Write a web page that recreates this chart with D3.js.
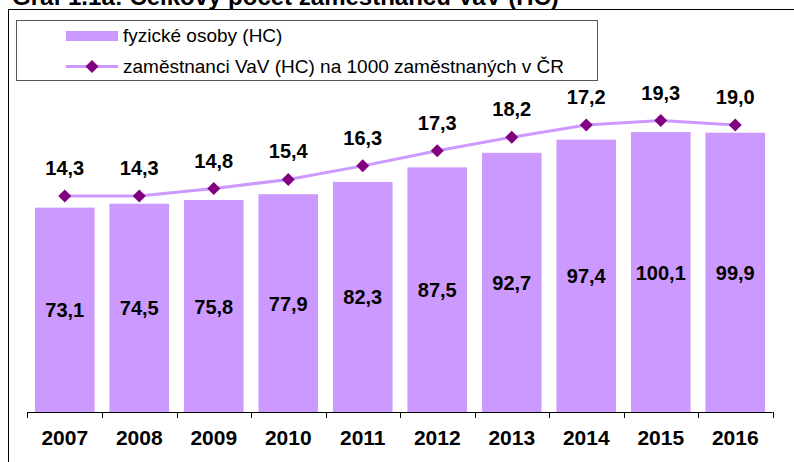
<!DOCTYPE html>
<html>
<head>
<meta charset="utf-8">
<script src="https://cdn.jsdelivr.net/npm/d3@7"></script>
<style>
  html, body { margin: 0; padding: 0; background: #fff; }
  svg { display: block; }
  text { font-family: "Liberation Sans", Arial, sans-serif; }
</style>
</head>
<body>
<svg id="chart" width="794" height="462"></svg>
<script>
const title = "Graf 1.1a: Celkový počet zaměstnanců VaV (HC)";
const years = ["2007","2008","2009","2010","2011","2012","2013","2014","2015","2016"];
const headcount = [73.1, 74.5, 75.8, 77.9, 82.3, 87.5, 92.7, 97.4, 100.1, 99.9];
const headcountLabels = ["73,1","74,5","75,8","77,9","82,3","87,5","92,7","97,4","100,1","99,9"];
const per1000 = [14.3, 14.3, 14.8, 15.4, 16.3, 17.3, 18.2, 19.0, 19.3, 19.0];
const per1000Labels = ["14,3","14,3","14,8","15,4","16,3","17,3","18,2","17,2","19,3","19,0"];
const seriesNames = ["fyzické osoby (HC)", "zaměstnanci VaV (HC) na 1000 zaměstnaných v ČR"];

const barColor = "#CC99FF";
const lineColor = "#CC99FF";
const markerColor = "#800080";

const svg = d3.select("#chart");

// Outer frame (extends beyond the picture on right/bottom)
svg.append("rect").attr("x", 8.5).attr("y", 9.5).attr("width", 800).attr("height", 480)
  .attr("fill", "none").attr("stroke", "#000").attr("stroke-width", 1);

// Title (partly cut off at top)
svg.append("text").attr("x", 12).attr("y", 5)
  .attr("font-size", 24).attr("font-weight", "bold").attr("fill", "#000").text(title);

const baseY = 412;
const x = d3.scaleBand().domain(years).range([27.5, 772.5]).paddingInner(0.2).paddingOuter(0.1);
const y = d3.scaleLinear().domain([0, 120]).range([baseY, baseY - 2.796 * 120]);
const y2 = d3.scaleLinear().domain([0, 22]).range([baseY, baseY - 15.1 * 22]);

// Bars
svg.append("g").selectAll("rect").data(years).join("rect")
  .attr("x", d => x(d))
  .attr("width", x.bandwidth())
  .attr("y", (d, i) => y(headcount[i]))
  .attr("height", (d, i) => y(0) - y(headcount[i]))
  .attr("fill", barColor);

// Bar labels (centered in bar)
svg.append("g").selectAll("text").data(years).join("text")
  .attr("x", d => x(d) + x.bandwidth() / 2)
  .attr("y", (d, i) => (y(headcount[i]) + y(0)) / 2 + 7.5)
  .attr("text-anchor", "middle")
  .attr("font-size", 20).attr("font-weight", "bold").attr("fill", "#000")
  .text((d, i) => headcountLabels[i]);

// X axis
const axis = d3.axisBottom(x).tickSize(0).tickFormat("");
const gAxis = svg.append("g").attr("transform", `translate(0,${baseY})`).call(axis);
gAxis.select(".domain").attr("stroke", "#000").attr("d", `M${x.range()[0]},0.5H${x.range()[1]}`);
// boundary ticks
const bounds = years.map(d => x(d) - x.step() * x.paddingInner() / 2).concat([x.range()[1]]);
gAxis.selectAll(".btick").data(bounds).join("line").attr("class", "btick")
  .attr("x1", d => Math.round(d) + 0.5).attr("x2", d => Math.round(d) + 0.5)
  .attr("y1", 0).attr("y2", 6).attr("stroke", "#000");
// year labels
svg.append("g").selectAll("text").data(years).join("text")
  .attr("x", d => x(d) + x.bandwidth() / 2)
  .attr("y", 445)
  .attr("text-anchor", "middle")
  .attr("font-size", 21).attr("font-weight", "bold").attr("fill", "#000")
  .text(d => d);

// Line
const line = d3.line().x((d, i) => x(years[i]) + x.bandwidth() / 2).y(d => y2(d));
svg.append("path").datum(per1000).attr("d", line)
  .attr("fill", "none").attr("stroke", lineColor).attr("stroke-width", 3);

const diamond = s => `M0,${-s}L${s},0L0,${s}L${-s},0Z`;
svg.append("g").selectAll("path").data(per1000).join("path")
  .attr("transform", (d, i) => `translate(${x(years[i]) + x.bandwidth() / 2},${y2(d)})`)
  .attr("d", diamond(6.5)).attr("fill", markerColor);

svg.append("g").selectAll("text").data(per1000).join("text")
  .attr("x", (d, i) => x(years[i]) + x.bandwidth() / 2)
  .attr("y", d => y2(d) - 21)
  .attr("text-anchor", "middle")
  .attr("font-size", 20).attr("font-weight", "bold").attr("fill", "#000")
  .text((d, i) => per1000Labels[i]);

// Legend
const lg = svg.append("g");
lg.append("rect").attr("x", 16.5).attr("y", 20.5).attr("width", 581).attr("height", 60)
  .attr("fill", "#fff").attr("stroke", "#555").attr("stroke-width", 1);
lg.append("rect").attr("x", 66).attr("y", 31).attr("width", 52).attr("height", 10).attr("fill", barColor);
lg.append("text").attr("x", 123).attr("y", 42).attr("font-size", 19).attr("fill", "#000").text(seriesNames[0]);
lg.append("line").attr("x1", 66).attr("x2", 118).attr("y1", 66.5).attr("y2", 66.5)
  .attr("stroke", lineColor).attr("stroke-width", 3);
lg.append("path").attr("transform", "translate(92,66.5)").attr("d", diamond(6.5)).attr("fill", markerColor);
lg.append("text").attr("x", 123).attr("y", 73).attr("font-size", 19).attr("fill", "#000").text(seriesNames[1]);
</script>
</body>
</html>
